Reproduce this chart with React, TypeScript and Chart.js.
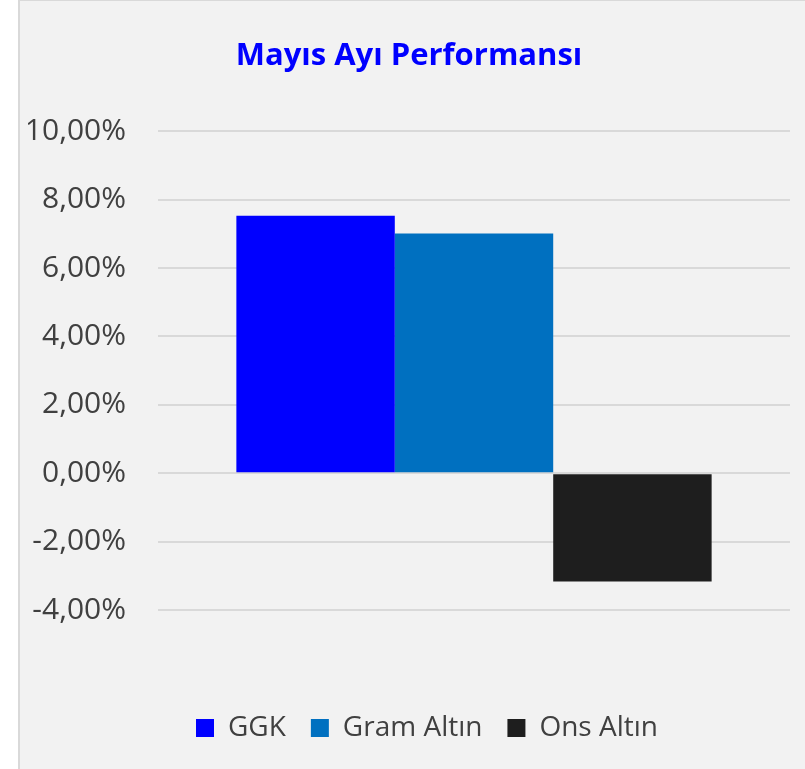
import React, { useEffect, useRef } from "react";
import { Chart, registerables } from "chart.js";

Chart.register(...registerables);

const categories = [""];
const seriesNames = ["GGK", "Gram Altın", "Ons Altın"];
const seriesValues = [7.53, 7.01, -3.17];
const seriesColors = ["#0000ff", "#0070c0", "#1e1e1e"];
const yTicks = [-4, -2, 0, 2, 4, 6, 8, 10];
const titleText = "Mayıs Ayı Performansı";

const legendShift = {
  id: "legendShift",
  afterLayout(chart: any) {
    const lg = chart.legend;
    if (lg) {
      lg.left += 18;
      lg.right += 18;
    }
  },
};

export default function App() {
  const ref = useRef<HTMLCanvasElement | null>(null);
  useEffect(() => {
    if (!ref.current) return;
    const chart = new Chart(ref.current, {
      type: "bar",
      data: {
        labels: categories,
        datasets: seriesNames.map((name, i) => ({
          label: name,
          data: [seriesValues[i]],
          backgroundColor: seriesColors[i],
          borderWidth: 0,
          categoryPercentage: 0.752,
          barPercentage: 1,
        })),
      },
      options: {
        animation: false,
        responsive: true,
        maintainAspectRatio: false,
        layout: { padding: { left: 28, right: 15, top: 0, bottom: 17 } },
        plugins: {
          title: {
            display: true,
            text: titleText,
            color: "#0000ff",
            font: { family: "'Open Sans'", size: 31, weight: "bold" },
            padding: { top: 38, bottom: 56 },
          },
          legend: {
            position: "bottom",
            labels: {
              boxWidth: 18,
              boxHeight: 18,
              padding: 25,
              color: "#404040",
              font: { family: "'Open Sans'", size: 28 },
            },
          },
          tooltip: { enabled: false },
        },
        scales: {
          x: {
            display: true,
            grid: { display: false },
            border: { display: false },
            ticks: { display: false },
            afterFit: (s: any) => {
              s.height = 79;
            },
          },
          y: {
            min: -4,
            max: 10,
            afterBuildTicks: (s: any) => {
              s.ticks = yTicks.map((v) => ({ value: v }));
            },
            grid: { color: "#d9d9d9", lineWidth: 2, drawTicks: false },
            border: { display: false },
            ticks: {
              padding: 32,
              color: "#404040",
              font: { family: "'Open Sans'", size: 30 },
              callback: (v: any) => `${Number(v).toFixed(2).replace(".", ",")}%`,
            },
            afterFit: (s: any) => {
              s.width = 130;
            },
          },
        },
      },
      plugins: [legendShift],
    });
    return () => chart.destroy();
  }, []);

  return (
    <>
      <div
        style={{
          position: "fixed",
          left: 18,
          top: 0,
          width: 787,
          height: 769,
          boxSizing: "border-box",
          background: "#f2f2f2",
          borderLeft: "2px solid #d9d9d9",
          borderTop: "1px solid #d9d9d9",
        }}
      />
      <div style={{ position: "fixed", left: 0, top: 0, width: 805, height: 769 }}>
        <canvas ref={ref} />
      </div>
    </>
  );
}
